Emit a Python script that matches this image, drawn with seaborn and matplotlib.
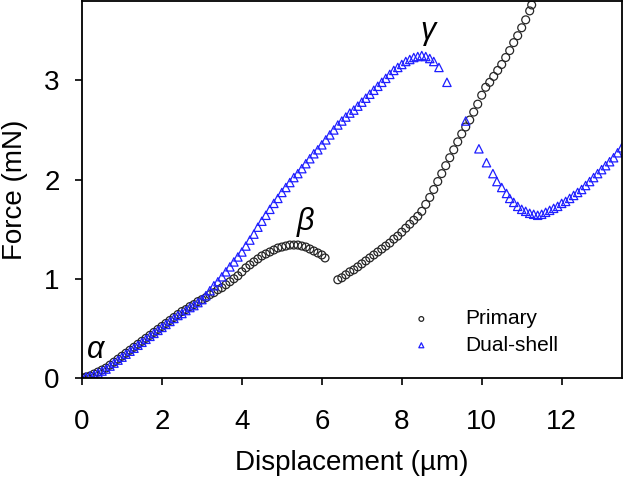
import numpy as np
import pandas as pd
import matplotlib
matplotlib.use("Agg")
import matplotlib.pyplot as plt
import seaborn as sns

# ─────────────────────────────────────────────
# DATA
# ─────────────────────────────────────────────
primary_x = [0.0, 0.1, 0.2, 0.3, 0.4, 0.5, 0.6, 0.7, 0.8, 0.9,
             1.0, 1.1, 1.2, 1.3, 1.4, 1.5, 1.6, 1.7, 1.8, 1.9,
             2.0, 2.1, 2.2, 2.3, 2.4, 2.5, 2.6, 2.7, 2.8, 2.9,
             3.0, 3.1, 3.2, 3.3, 3.4, 3.5, 3.6, 3.7, 3.8, 3.9,
             4.0, 4.1, 4.2, 4.3, 4.4, 4.5, 4.6, 4.7, 4.8, 4.9,
             5.0, 5.1, 5.2, 5.3, 5.4, 5.5, 5.6, 5.7, 5.8, 5.9,
             6.0, 6.08,
             6.4, 6.5, 6.6, 6.7, 6.8, 6.9, 7.0, 7.1, 7.2, 7.3,
             7.4, 7.5, 7.6, 7.7, 7.8, 7.9, 8.0, 8.1, 8.2, 8.3,
             8.4, 8.5, 8.6, 8.7, 8.8, 8.9, 9.0, 9.1, 9.2, 9.3,
             9.4, 9.5, 9.6, 9.7, 9.8, 9.9, 10.0, 10.1, 10.2, 10.3,
             10.4, 10.5, 10.6, 10.7, 10.8, 10.9, 11.0, 11.1, 11.2, 11.25]
primary_y = [0.00, 0.01, 0.02, 0.04, 0.06, 0.08, 0.10, 0.13, 0.16, 0.19,
             0.22, 0.25, 0.28, 0.31, 0.34, 0.37, 0.40, 0.43, 0.46, 0.49,
             0.52, 0.55, 0.58, 0.61, 0.64, 0.67, 0.69, 0.72, 0.74, 0.77,
             0.79, 0.81, 0.84, 0.86, 0.89, 0.91, 0.94, 0.97, 1.00, 1.03,
             1.07, 1.11, 1.14, 1.17, 1.20, 1.23, 1.25, 1.27, 1.29, 1.31,
             1.32, 1.33, 1.34, 1.34, 1.34, 1.33, 1.32, 1.30, 1.28, 1.26,
             1.24, 1.21,
             0.99, 1.01, 1.04, 1.07, 1.09, 1.12, 1.15, 1.18, 1.21, 1.24,
             1.27, 1.30, 1.33, 1.36, 1.40, 1.43, 1.47, 1.51, 1.55, 1.59,
             1.63, 1.68, 1.75, 1.82, 1.90, 1.98, 2.06, 2.14, 2.22, 2.30,
             2.38, 2.46, 2.53, 2.60, 2.68, 2.76, 2.85, 2.93, 2.98, 3.04,
             3.10, 3.16, 3.23, 3.30, 3.38, 3.45, 3.53, 3.61, 3.70, 3.76]

dual_x = [0.0, 0.1, 0.2, 0.3, 0.4, 0.5, 0.6, 0.7, 0.8, 0.9,
          1.0, 1.1, 1.2, 1.3, 1.4, 1.5, 1.6, 1.7, 1.8, 1.9,
          2.0, 2.1, 2.2, 2.3, 2.4, 2.5, 2.6, 2.7, 2.8, 2.9,
          3.0, 3.1, 3.2, 3.3, 3.4, 3.5, 3.6, 3.7, 3.8, 3.9,
          4.0, 4.1, 4.2, 4.3, 4.4, 4.5, 4.6, 4.7, 4.8, 4.9,
          5.0, 5.1, 5.2, 5.3, 5.4, 5.5, 5.6, 5.7, 5.8, 5.9,
          6.0, 6.1, 6.2, 6.3, 6.4, 6.5, 6.6, 6.7, 6.8, 6.9,
          7.0, 7.1, 7.2, 7.3, 7.4, 7.5, 7.6, 7.7, 7.8, 7.9,
          8.0, 8.1, 8.2, 8.3, 8.4, 8.5, 8.6, 8.7, 8.8,
          8.93, 9.13, 9.6, 9.93, 10.12, 10.28, 10.38, 10.5, 10.62, 10.7,
          10.8, 10.9, 11.0, 11.1, 11.2, 11.3, 11.4, 11.5, 11.6, 11.7,
          11.8, 11.9, 12.0, 12.1, 12.2, 12.3, 12.4, 12.5, 12.6, 12.7,
          12.8, 12.9, 13.0, 13.1, 13.2, 13.3, 13.4, 13.5]
dual_y = [0.00, 0.01, 0.02, 0.03, 0.05, 0.07, 0.09, 0.12, 0.15, 0.18,
          0.21, 0.24, 0.27, 0.30, 0.33, 0.36, 0.39, 0.42, 0.45, 0.48,
          0.51, 0.54, 0.57, 0.60, 0.63, 0.65, 0.68, 0.71, 0.73, 0.76,
          0.79, 0.83, 0.88, 0.93, 0.97, 1.02, 1.07, 1.12, 1.17, 1.22,
          1.27, 1.33, 1.39, 1.45, 1.52, 1.58, 1.64, 1.70, 1.76, 1.81,
          1.87, 1.92, 1.97, 2.02, 2.06, 2.11, 2.16, 2.21, 2.26, 2.30,
          2.35, 2.40, 2.45, 2.50, 2.55, 2.59, 2.63, 2.67, 2.70, 2.74,
          2.78, 2.82, 2.86, 2.90, 2.94, 2.98, 3.02, 3.06, 3.10, 3.13,
          3.16, 3.19, 3.21, 3.23, 3.24, 3.25, 3.24, 3.22, 3.19,
          3.13, 2.98, 2.59, 2.31, 2.17, 2.06, 1.98, 1.92, 1.86, 1.81,
          1.77, 1.73, 1.70, 1.68, 1.66, 1.65, 1.64, 1.65, 1.67, 1.69,
          1.71, 1.73, 1.76, 1.78, 1.81, 1.84, 1.87, 1.90, 1.94, 1.98,
          2.02, 2.06, 2.10, 2.14, 2.18, 2.22, 2.27, 2.32]

x_ticks = [0, 2, 4, 6, 8, 10, 12]
y_ticks = [0, 1, 2, 3]

primary = pd.DataFrame({'disp': primary_x, 'force': primary_y})
dual = pd.DataFrame({'disp': dual_x, 'force': dual_y})

# ─────────────────────────────────────────────
# PLOT
# ─────────────────────────────────────────────
sns.set_theme(style="ticks")
plt.rcParams['font.family'] = ['Liberation Sans', 'DejaVu Sans']
plt.rcParams['text.color'] = 'black'
plt.rcParams['axes.labelcolor'] = 'black'
plt.rcParams['xtick.color'] = 'black'
plt.rcParams['ytick.color'] = 'black'

fig = plt.figure(figsize=(6.26, 4.84), dpi=100)
ax = fig.add_axes([0.131, 0.219, 0.862, 0.779])

sns.scatterplot(data=primary, x='disp', y='force', ax=ax, marker='o', s=32,
                facecolor='none', edgecolor='#262626', linewidth=0.9,
                label='Primary')
sns.scatterplot(data=dual, x='disp', y='force', ax=ax, marker='^', s=36,
                facecolor='none', edgecolor='#1f1fff', linewidth=0.9,
                label='Dual-shell')

ax.set_xlim(0, 13.5)
ax.set_ylim(0, 3.8)
ax.set_xticks(x_ticks)
ax.set_yticks(y_ticks)
ax.tick_params(axis='both', direction='out', length=5, width=1.2,
               labelsize=20)
ax.tick_params(axis='x', pad=17)
ax.tick_params(axis='y', pad=11)
for sp in ax.spines.values():
    sp.set_visible(True)
    sp.set_color('black')
    sp.set_linewidth(1.3)

ax.set_xlabel('Displacement (µm)', fontsize=20, labelpad=11)
ax.set_ylabel('Force (mN)', fontsize=20, labelpad=12)

# Greek annotations
ax.text(0.33, 0.28, 'α', fontsize=22, style='italic', ha='center', va='center')
ax.text(5.6, 1.57, 'β', fontsize=22, style='italic', ha='center', va='center')
ax.text(8.65, 3.5, 'γ', fontsize=22, style='italic', ha='center', va='center')

leg = ax.legend(loc='lower right', frameon=False, fontsize=15,
                bbox_to_anchor=(0.917, 0.012), handletextpad=1.1,
                labelspacing=0.35, markerscale=0.6)

plt.savefig('out.png', dpi=100)
